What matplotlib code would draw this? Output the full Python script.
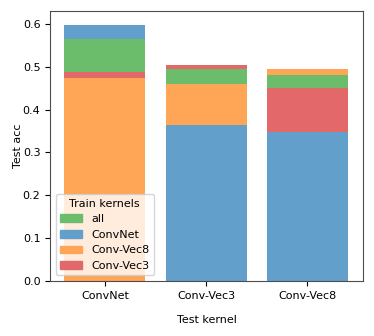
import numpy as np
import matplotlib
matplotlib.use("Agg")
import matplotlib.pyplot as plt
from matplotlib.colors import to_rgb
from matplotlib.patches import Patch

test_kernels = ["ConvNet", "Conv-Vec3", "Conv-Vec8"]
train_kernels = ["all", "ConvNet", "Conv-Vec8", "Conv-Vec3"]
colors = ["tab:green", "tab:blue", "tab:orange", "tab:red"]

# test acc per train kernel, one value per test kernel
acc_all = [0.565, 0.495, 0.480]
acc_convnet = [0.598, 0.363, 0.348]
acc_vec8 = [0.473, 0.460, 0.495]
acc_vec3 = [0.488, 0.505, 0.451]
accs = [acc_all, acc_convnet, acc_vec8, acc_vec3]

def lighten(c, a=0.7):
    r = np.array(to_rgb(c))
    return tuple(a * r + (1 - a))

light = [lighten(c) for c in colors]

plt.rcParams['font.size'] = 8

fig, ax = plt.subplots(figsize=(3.74, 3.36), dpi=100)
x = np.arange(len(test_kernels))
for i in range(len(test_kernels)):
    vals = [a[i] for a in accs]
    # tallest first so shorter ones stay visible
    for k in np.argsort(vals)[::-1]:
        ax.bar(x[i], vals[k], width=0.8, color=light[k])

ax.set_xticks(x)
ax.set_xticklabels(test_kernels)
ax.set_xlim(-0.54, 2.55)
ax.set_ylim(0, 0.630)
ax.set_xlabel("Test kernel", labelpad=10)
ax.set_ylabel("Test acc", labelpad=0)
for s in ax.spines.values():
    s.set_color('0.3')
handles = [Patch(color=c) for c in light]
ax.legend(handles, train_kernels, title="Train kernels", loc="lower left")
plt.subplots_adjust(left=0.134, right=0.971, top=0.967, bottom=0.164)
plt.savefig("out.png", dpi=100)
